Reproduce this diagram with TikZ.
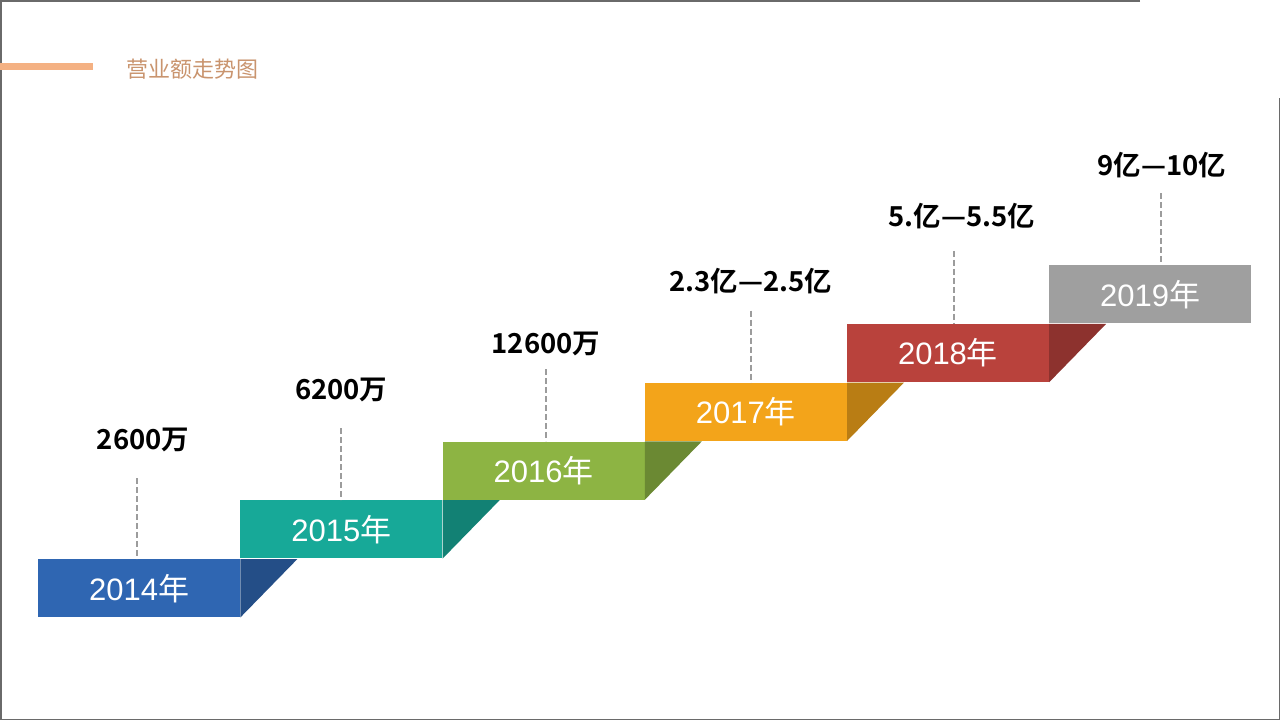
\documentclass[tikz,border=0pt]{standalone}
\usepackage{fontspec}
\setmainfont{Liberation Sans}
\newfontfamily\cjk[BoldFont={Noto Sans CJK SC Bold}]{Noto Sans CJK SC}
\definecolor{cBlue}{HTML}{2F66B2}
\definecolor{cTeal}{HTML}{17A998}
\definecolor{cGreen}{HTML}{8DB443}
\definecolor{cOrange}{HTML}{F3A41A}
\definecolor{cRed}{HTML}{B9423C}
\definecolor{cGrey}{HTML}{9F9F9F}
\definecolor{barPeach}{HTML}{F4B183}
\definecolor{titleBrown}{HTML}{C9946E}
\definecolor{dashGrey}{HTML}{9C9C9C}
\definecolor{frameGrey}{HTML}{6A6A6A}

\begin{document}
\begin{tikzpicture}[x=1pt,y=-1pt,
    yearbox/.style={anchor=north west,minimum width=202pt,minimum height=58pt,inner sep=0pt,
        text=white,font=\fontsize{31}{31}\selectfont},
    vallabel/.style={font=\cjk\bfseries\fontsize{27.5}{28}\selectfont},
    guide/.style={draw=dashGrey,line width=2.2pt,dash pattern=on 6pt off 3pt}]
    \useasboundingbox (0,0) rectangle (1280,720);
    % frame
    \draw[frameGrey,line width=1.5pt] (1140,0.75)--(0.75,0.75)--(0.75,719.25)--(1279.25,719.25)--(1279.25,98);
    % title
    \fill[barPeach] (0,63) rectangle (93,70);
    \node[anchor=west,inner sep=0pt,text=titleBrown,font=\cjk\fontsize{22}{22}\selectfont] (title) at (126,69) {营业额走势图};
    % steps
    \foreach \yr/\c/\dx/\dl/\lab/\lx/\ly [count=\i from 0] in {
        2014/cBlue/-2/81/2600万/6/440, 2015/cTeal/0/72/6200万/0/390,
        2016/cGreen/2.5/72/12600万/0/344, 2017/cOrange/5/72/2.3亿—2.5亿/0/281,
        2018/cRed/6/73/5.亿—5.5亿/8/216, 2019/cGrey/11/72/9亿—10亿/1/165}{
        \pgfmathsetmacro\bx{38+202.2*\i}
        \pgfmathsetmacro\by{559-58.8*\i}
        \node[yearbox,fill=\c] (b\yr) at (\bx,\by) {\raisebox{2pt}{\yr{\cjk 年}}};
        \ifnum\i<5
            \fill[\c!76!black] (b\yr.north east) -- ++(57,0) -- (b\yr.south east) -- cycle;
        \fi
        \coordinate (t\yr) at (\bx+101+\dx,\by-\dl);
        \draw[guide] (t\yr) -- (t\yr |- b\yr.north);
        \node[vallabel] (v\yr) at (\bx+101+\dx+\lx,\ly) {\lab};
    }
\end{tikzpicture}
\end{document}
